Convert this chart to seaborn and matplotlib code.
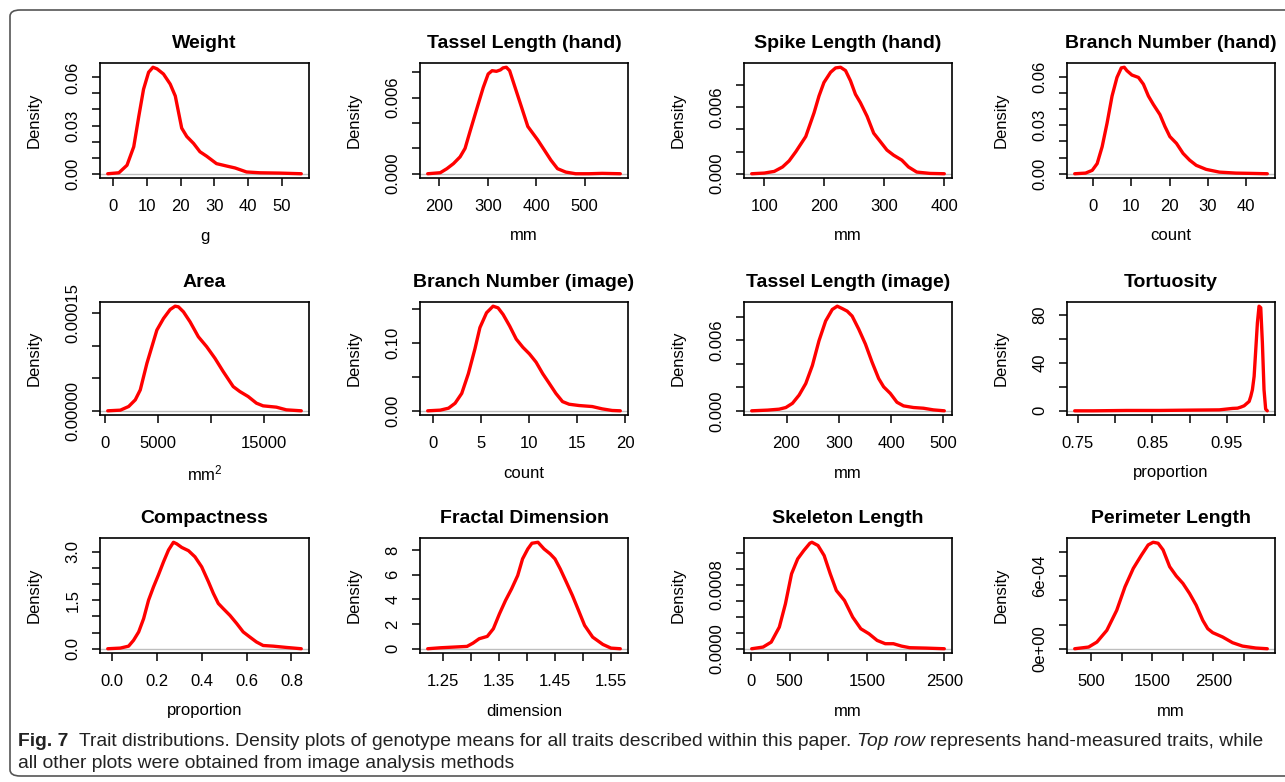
import matplotlib
matplotlib.use("Agg")
import matplotlib.pyplot as plt
from matplotlib.patches import FancyBboxPatch
import seaborn as sns

sns.set_style("ticks")
plt.rcParams["font.family"] = ["Liberation Sans", "DejaVu Sans"]
plt.rcParams["mathtext.default"] = "regular"
plt.rcParams["text.color"] = "black"
plt.rcParams["axes.labelcolor"] = "black"

# density curves (x, density)
weight_x = [-1.6, 1.7, 4.1, 6.1, 7.6, 9.0, 10.5, 11.8, 13.0, 14.9, 16.9, 18.4, 20.3, 21.8,
            23.8, 25.7, 27.7, 30.6, 33.6, 36.1, 39.5, 43.4, 49.3, 55.7]
weight_y = [0.0, 0.0006, 0.0053, 0.0168, 0.0358, 0.0526, 0.0632, 0.0663, 0.0653, 0.0621,
            0.0558, 0.0484, 0.0284, 0.0232, 0.0189, 0.0137, 0.0109, 0.0063, 0.0048, 0.0036,
            0.0011, 0.0006, 0.0004, 0.0]

tassel_hand_x = [176.1, 202.0, 215.7, 229.3, 242.9, 253.2, 263.4, 277.0, 290.7, 300.9, 309.1,
                 317.9, 326.1, 331.6, 338.4, 345.2, 355.4, 369.1, 382.7, 392.9, 403.1, 416.8,
                 430.4, 444.0, 461.1, 481.5, 508.8, 536.1, 573.6]
tassel_hand_y = [0.0, 0.00008, 0.0004, 0.0008, 0.00133, 0.002, 0.00333, 0.00507, 0.0068,
                 0.00787, 0.00813, 0.00808, 0.00819, 0.00835, 0.0084, 0.00813, 0.00693,
                 0.00533, 0.00373, 0.0032, 0.00267, 0.00187, 0.00107, 0.0004, 0.00013, 0.0,
                 0.0, 0.00003, 0.0]

spike_x = [79.0, 100.0, 116.6, 130.4, 141.4, 152.5, 169.1, 182.9, 191.2, 199.4, 210.5, 218.8,
           227.1, 235.4, 243.6, 251.9, 260.2, 271.3, 282.3, 293.4, 304.4, 315.5, 329.3, 340.3,
           354.1, 376.2, 400.0]
spike_y = [0.0, 0.00006, 0.00021, 0.00061, 0.00116, 0.00198, 0.00335, 0.00548, 0.007, 0.00821,
           0.00913, 0.00952, 0.00958, 0.00928, 0.00837, 0.00715, 0.00639, 0.00517, 0.00365,
           0.00289, 0.00213, 0.00167, 0.00122, 0.00061, 0.00015, 0.00003, 0.0]

branch_hand_x = [-4.85, -2.0, -0.26, 1.04, 2.34, 3.64, 4.94, 6.23, 7.36, 8.14, 8.83, 10.13,
                 11.86, 13.16, 14.46, 15.76, 17.49, 18.79, 20.09, 21.82, 23.55, 25.28, 27.01,
                 29.61, 33.07, 37.40, 41.73, 45.63]
branch_hand_y = [0.0, 0.0004, 0.0021, 0.0063, 0.0167, 0.0314, 0.0481, 0.0596, 0.0655, 0.0659,
                 0.0638, 0.0611, 0.0596, 0.0554, 0.0481, 0.0429, 0.0366, 0.0293, 0.0230,
                 0.0188, 0.0126, 0.0084, 0.0052, 0.0027, 0.0010, 0.0004, 0.0002, 0.0]

area_x = [220, 1413, 2197, 2825, 3296, 3924, 4395, 4865, 5493, 6121, 6592, 6906, 7377, 8004,
          8789, 9574, 10359, 11143, 12085, 12713, 13497, 14282, 14910, 16166, 17108, 18520]
area_y = [0.0, 1.0e-6, 6.6e-6, 1.68e-5, 3.20e-5, 7.27e-5, 9.82e-5, 1.236e-4, 1.414e-4,
          1.551e-4, 1.602e-4, 1.592e-4, 1.516e-4, 1.363e-4, 1.134e-4, 9.82e-5, 8.04e-5,
          6.00e-5, 3.71e-5, 2.95e-5, 2.19e-5, 1.17e-5, 7.6e-6, 5.6e-6, 1.5e-6, 0.0]

branch_img_x = [-0.55, 0.76, 1.62, 2.30, 2.99, 3.68, 4.36, 4.88, 5.57, 6.25, 6.77, 7.29, 7.97,
                8.66, 9.35, 10.03, 10.72, 11.41, 12.10, 12.78, 13.47, 14.16, 15.19, 16.56,
                17.59, 18.63, 19.48]
branch_img_y = [0.0, 0.001, 0.0039, 0.0112, 0.0257, 0.0549, 0.0913, 0.1228, 0.1447, 0.1544,
                0.1519, 0.1422, 0.1252, 0.1058, 0.0937, 0.0840, 0.0718, 0.0549, 0.0403,
                0.0257, 0.0136, 0.0097, 0.0078, 0.0063, 0.0029, 0.0005, 0.0]

tassel_img_x = [133.4, 163.9, 186.0, 198.7, 211.4, 224.1, 236.8, 249.5, 262.1, 274.8, 287.5,
                297.0, 306.5, 316.0, 325.5, 338.2, 350.9, 363.6, 376.3, 385.8, 398.5, 411.2,
                423.8, 442.9, 461.9, 480.9, 501.8]
tassel_img_y = [0.0, 0.00006, 0.00014, 0.00028, 0.00064, 0.00134, 0.00232, 0.00386, 0.00596,
                0.00764, 0.00862, 0.0089, 0.0087, 0.00848, 0.00806, 0.00694, 0.00568, 0.00414,
                0.00274, 0.00204, 0.00148, 0.00073, 0.00042, 0.00028, 0.00022, 0.00008, 0.0]

tortuosity_x = [0.7456, 0.7709, 0.8154, 0.8599, 0.9044, 0.9399, 0.9488, 0.9577, 0.9644,
                0.9689, 0.9733, 0.9764, 0.9800, 0.9822, 0.9844, 0.9867, 0.9889, 0.9911,
                0.9933, 0.9956, 0.9978, 1.0000, 1.0022, 1.0044]
tortuosity_y = [0.0, 0.0, 0.3, 0.3, 0.6, 0.8, 1.4, 2.0, 2.2, 3.1, 4.2, 5.9, 7.8, 12.0, 17.6,
                28.7, 51.0, 73.3, 87.2, 85.9, 56.6, 17.6, 1.4, 0.0]

compact_x = [-0.019, 0.037, 0.074, 0.096, 0.119, 0.141, 0.163, 0.185, 0.207, 0.230, 0.252,
             0.274, 0.289, 0.311, 0.341, 0.370, 0.400, 0.430, 0.452, 0.474, 0.496, 0.526,
             0.556, 0.585, 0.615, 0.644, 0.674, 0.719, 0.778, 0.844]
compact_y = [0.0, 0.02, 0.08, 0.26, 0.52, 0.93, 1.50, 1.91, 2.28, 2.69, 3.05, 3.29, 3.24, 3.13,
             3.03, 2.84, 2.53, 2.07, 1.71, 1.40, 1.24, 1.03, 0.78, 0.52, 0.36, 0.21, 0.10,
             0.08, 0.04, 0.0]

fractal_x = [1.2233, 1.2464, 1.2681, 1.2934, 1.3042, 1.3150, 1.3295, 1.3403, 1.3512, 1.3620,
             1.3728, 1.3837, 1.3923, 1.4017, 1.4090, 1.4198, 1.4306, 1.4415, 1.4501, 1.4595,
             1.4704, 1.4812, 1.4921, 1.5029, 1.5173, 1.5354, 1.5499, 1.5665]
fractal_y = [0.0, 0.08, 0.13, 0.19, 0.46, 0.81, 1.00, 1.62, 2.83, 3.91, 4.85, 5.93, 7.27, 8.08,
             8.54, 8.62, 8.08, 7.68, 7.27, 6.46, 5.39, 4.31, 3.10, 1.89, 0.94, 0.35, 0.05, 0.0]

skeleton_x = [11, 158, 263, 368, 447, 526, 605, 684, 763, 789, 868, 947, 1026, 1105, 1210, 1316,
              1421, 1526, 1632, 1737, 1842, 1947, 2053, 2263, 2500]
skeleton_y = [0.0, 2.1e-5, 8.3e-5, 2.71e-4, 5.63e-4, 9.38e-4, 1.125e-3, 1.229e-3, 1.321e-3,
              1.333e-3, 1.292e-3, 1.167e-3, 9.38e-4, 7.29e-4, 6.04e-4, 3.96e-4, 2.50e-4,
              1.88e-4, 1.04e-4, 6.3e-5, 6.3e-5, 3.3e-5, 1.3e-5, 8e-6, 0.0]

perimeter_x = [235, 462, 597, 759, 921, 1056, 1191, 1326, 1434, 1515, 1596, 1677, 1785, 1893,
               2001, 2109, 2217, 2325, 2406, 2487, 2649, 2811, 2973, 3189, 3378]
perimeter_y = [0.0, 1.4e-5, 5.5e-5, 1.52e-4, 3.18e-4, 5.12e-4, 6.64e-4, 7.75e-4, 8.58e-4,
               8.80e-4, 8.72e-4, 8.17e-4, 6.78e-4, 6.01e-4, 5.40e-4, 4.57e-4, 3.60e-4,
               2.35e-4, 1.66e-4, 1.33e-4, 9.7e-5, 5.0e-5, 2.2e-5, 6e-6, 0.0]

titles = ["Weight", "Tassel Length (hand)", "Spike Length (hand)", "Branch Number (hand)",
          "Area", "Branch Number (image)", "Tassel Length (image)", "Tortuosity",
          "Compactness", "Fractal Dimension", "Skeleton Length", "Perimeter Length"]
units = ["g", "mm", "mm", "count", "mm$^2$", "count", "mm", "proportion",
         "proportion", "dimension", "mm", "mm"]

# tick positions and labels (R drops labels that would overlap)
xticks = [[0, 10, 20, 30, 40, 50], [200, 300, 400, 500], [100, 200, 300, 400],
          [0, 10, 20, 30, 40], [0, 5000, 10000, 15000], [0, 5, 10, 15, 20],
          [200, 300, 400, 500], [0.75, 0.80, 0.85, 0.90, 0.95, 1.00],
          [0.0, 0.2, 0.4, 0.6, 0.8], [1.25, 1.30, 1.35, 1.40, 1.45, 1.50, 1.55],
          [0, 500, 1000, 1500, 2000, 2500], [500, 1000, 1500, 2000, 2500, 3000]]
xticklabels = [["0", "10", "20", "30", "40", "50"], ["200", "300", "400", "500"],
               ["100", "200", "300", "400"], ["0", "10", "20", "30", "40"],
               ["0", "5000", "", "15000"], ["0", "5", "10", "15", "20"],
               ["200", "300", "400", "500"], ["0.75", "", "0.85", "", "0.95", ""],
               ["0.0", "0.2", "0.4", "0.6", "0.8"], ["1.25", "", "1.35", "", "1.45", "", "1.55"],
               ["0", "500", "", "1500", "", "2500"], ["500", "", "1500", "", "2500", ""]]
yticks = [[0, .01, .02, .03, .04, .05, .06], [0, .002, .004, .006, .008],
          [0, .002, .004, .006, .008], [0, .01, .02, .03, .04, .05, .06],
          [0, 5e-5, 1e-4, 1.5e-4], [0, .05, .10, .15], [0, .002, .004, .006, .008],
          [0, 20, 40, 60, 80], [0, .5, 1.0, 1.5, 2.0, 2.5, 3.0], [0, 2, 4, 6, 8],
          [0, 2e-4, 4e-4, 6e-4, 8e-4, 1e-3, 1.2e-3], [0, 2e-4, 4e-4, 6e-4, 8e-4]]
yticklabels = [["0.00", "", "", "0.03", "", "", "0.06"], ["0.000", "", "", "0.006", ""],
               ["0.000", "", "", "0.006", ""], ["0.00", "", "", "0.03", "", "", "0.06"],
               ["0.00000", "", "", "0.00015"], ["0.00", "", "0.10", ""],
               ["0.000", "", "", "0.006", ""], ["0", "", "40", "", "80"],
               ["0.0", "", "", "1.5", "", "", "3.0"], ["0", "2", "4", "6", "8"],
               ["0.0000", "", "", "", "0.0008", "", ""], ["0e+00", "", "", "6e-04", ""]]

curves = [(weight_x, weight_y), (tassel_hand_x, tassel_hand_y), (spike_x, spike_y),
          (branch_hand_x, branch_hand_y), (area_x, area_y), (branch_img_x, branch_img_y),
          (tassel_img_x, tassel_img_y), (tortuosity_x, tortuosity_y), (compact_x, compact_y),
          (fractal_x, fractal_y), (skeleton_x, skeleton_y), (perimeter_x, perimeter_y)]

W, H = 1285, 782
fig = plt.figure(figsize=(W / 100, H / 100), dpi=100)

col_left = [100, 420, 744, 1067]
col_w = [209, 208, 208, 208]
row_top = [63, 302, 538]
row_h = [115, 113, 115]

for i, (cx, cy) in enumerate(curves):
    r, c = divmod(i, 4)
    l, t, w, h = col_left[c], row_top[r], col_w[c], row_h[r]
    ax = fig.add_axes([l / W, 1 - (t + h) / H, w / W, h / H])
    ax.axhline(0, color="#bebebe", lw=1, zorder=1)
    sns.lineplot(x=cx, y=cy, ax=ax, color="red", lw=2.4, sort=False, estimator=None, zorder=2)
    # R style 4% padding
    xr = max(cx) - min(cx)
    ax.set_xlim(min(cx) - 0.04 * xr, max(cx) + 0.04 * xr)
    ax.set_ylim(-0.04 * max(cy), 1.04 * max(cy))
    ax.set_xticks(xticks[i])
    ax.set_xticklabels(xticklabels[i])
    ax.set_yticks(yticks[i])
    ax.set_yticklabels(yticklabels[i], rotation=90, va="center")
    ax.tick_params(axis="both", direction="out", length=6, width=1.1, labelsize=12,
                   colors="black")
    ax.tick_params(axis="x", pad=9)
    ax.tick_params(axis="y", pad=8)
    for s in ax.spines.values():
        s.set_visible(True)
        s.set_linewidth(1.2)
        s.set_color("black")
    ax.set_title(titles[i], fontsize=14, fontweight="bold", pad=11, color="black")
    ax.set_xlabel(units[i], fontsize=12)
    ax.set_ylabel("Density", fontsize=12)
    ax.xaxis.set_label_coords(0.5, -58 / h)
    ax.xaxis.label.set_va("center")
    ax.yaxis.set_label_coords(-66 / w, 0.5)
    ax.yaxis.label.set_va("center")

# outer rounded frame
frame = FancyBboxPatch((10 / W, 1 - 776 / H), 1300 / W, 766 / H,
                       boxstyle="round,pad=0,rounding_size=0.008",
                       transform=fig.transFigure, fill=False, edgecolor="#555555",
                       lw=1.2, clip_on=False)
fig.add_artist(frame)

# caption
cap_family = ["Liberation Sans Narrow", "Liberation Sans", "DejaVu Sans"]
line1 = [("Fig. 7", "bold", "normal", 2),
         ("Trait distributions. Density plots of genotype means for all traits described within this paper.", "normal", "normal", 1),
         ("Top row", "normal", "italic", 1),
         ("represents hand-measured traits, while", "normal", "normal", 0)]
line2 = [("all other plots were obtained from image analysis methods", "normal", "normal", 0)]

renderer = fig.canvas.get_renderer()


def put_runs(runs, x_px, y_px, size):
    arts = []
    x = x_px
    probe1 = fig.text(0, 0, "x x", fontsize=size, family=cap_family)
    probe2 = fig.text(0, 0, "xx", fontsize=size, family=cap_family)
    space = probe1.get_window_extent(renderer).width - probe2.get_window_extent(renderer).width
    probe1.remove()
    probe2.remove()
    for txt, weight, style, gaps in runs:
        t = fig.text(x / W, 1 - y_px / H, txt, fontsize=size, fontweight=weight,
                     fontstyle=style, family=cap_family, va="baseline", ha="left",
                     color="#222222")
        x += t.get_window_extent(renderer).width + gaps * space
        arts.append(t)
    return arts, x - x_px


arts, width = put_runs(line1, 18, 746, 10)
for a in arts:
    a.remove()
size = 10 * 1247 / width
put_runs(line1, 18, 746, size)
put_runs(line2, 18, 768, size)

fig.savefig("out.png", dpi=100)
